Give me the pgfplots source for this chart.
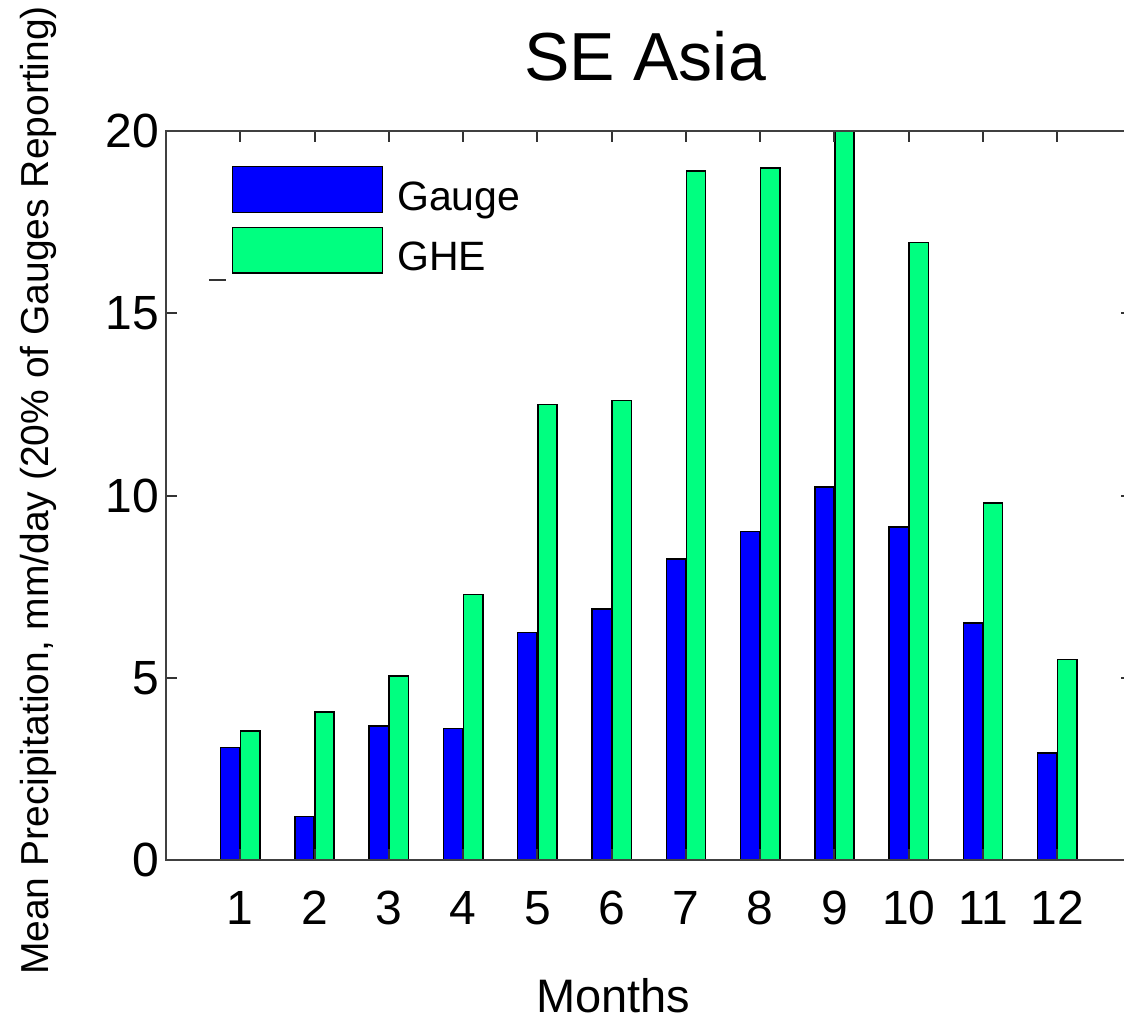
\documentclass[border=0pt]{standalone}
\usepackage{pgfplots}
\pgfplotsset{compat=1.18}
\usepackage{fontspec}
\setmainfont{Liberation Sans}
\definecolor{gblue}{RGB}{0,0,255}
\definecolor{ggreen}{RGB}{0,255,128}
\begin{document}
\begin{tikzpicture}
\begin{axis}[
  name=ax,
  scale only axis, width=482.8pt, height=364.5pt,
  xmin=0, xmax=13, ymin=0, ymax=20,
  xtick={1,...,12}, ytick={0,5,10,15,20},
  tick align=inside, major tick length=5.5pt,
  axis line style={line width=1pt, black!75},
  tick style={line width=1pt, black!80},
  ticklabel style={font=\fontsize{24}{28}\selectfont},
  /pgf/number format/assume math mode=true,
  xticklabel style={yshift=-12pt},
  axis on top,
  title={SE Asia},
  title style={at={(0.496,1)}, anchor=base, yshift=19pt, font=\fontsize{34}{40}\selectfont},
  xlabel={Months},
  xlabel style={at={(0.463,0)}, anchor=base, yshift=-76pt, font=\fontsize{23.5}{28}\selectfont},
  ylabel={Mean Precipitation, mm/day (20\% of Gauges Reporting)},
  ylabel style={at={(-0.1212,0.507)}, anchor=base, font=\fontsize{19.5}{23}\selectfont},
  legend style={draw=none, fill=none, at={(0.068,0.952)}, anchor=north west,
    inner sep=0pt, outer sep=0pt, row sep=6.7pt, column sep=7pt,
    font=\fontsize{20.5}{24}\selectfont, nodes={inner sep=0pt}},
  legend cell align=left,
]
\addplot[ybar, bar width=0.26, bar shift=-0.135, fill=gblue, draw=black, line width=0.75pt,
  legend image code/.code={\draw[fill=gblue, draw=black, line width=0.75pt] (0pt,-7.5pt) rectangle (75pt,15.3pt);}]
  coordinates {(1,3.09) (2,1.19) (3,3.68) (4,3.61) (5,6.24) (6,6.89) (7,8.26) (8,9.01) (9,10.23) (10,9.13) (11,6.50) (12,2.94)};
\addlegendentry{Gauge}
\addplot[ybar, bar width=0.26, bar shift=0.135, fill=ggreen, draw=black, line width=0.75pt,
  legend image code/.code={\draw[fill=ggreen, draw=black, line width=0.75pt] (0pt,-7.5pt) rectangle (75pt,15.3pt);}]
  coordinates {(1,3.54) (2,4.06) (3,5.05) (4,7.29) (5,12.49) (6,12.60) (7,18.90) (8,18.99) (9,20.4) (10,16.94) (11,9.79) (12,5.50)};
\addlegendentry{GHE}
\draw[line width=1pt, black!80] (rel axis cs:0.0445,0.7956) -- (rel axis cs:0.0621,0.7956);
\end{axis}
\pgfresetboundingbox
\path[use as bounding box] ([shift={(-83pt,-79.5pt)}]ax.south west) rectangle ([shift={(479pt,430pt)}]ax.south west);
\end{tikzpicture}
\end{document}
